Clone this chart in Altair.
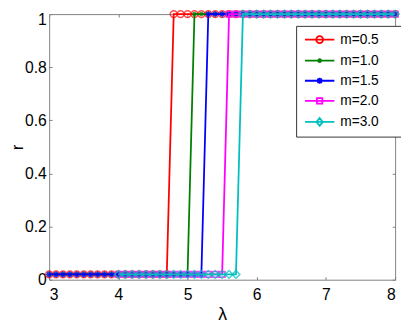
import altair as alt
import pandas as pd

# lambda grids (markers every 0.1)
lam_a = [3.0, 3.1, 3.2, 3.3, 3.4, 3.5, 3.6, 3.7, 3.8, 3.9,
         4.0, 4.1, 4.2, 4.3, 4.4, 4.5, 4.6, 4.7, 4.8, 4.9,
         5.0, 5.1, 5.2, 5.3, 5.4, 5.5, 5.6, 5.7, 5.8, 5.9,
         6.0, 6.1, 6.2, 6.3, 6.4, 6.5, 6.6, 6.7, 6.8, 6.9,
         7.0, 7.1, 7.2, 7.3, 7.4, 7.5, 7.6, 7.7, 7.8, 7.9, 8.0]
lam_b = [4.0, 4.1, 4.2, 4.3, 4.4, 4.5, 4.6, 4.7, 4.8, 4.9,
         5.0, 5.1, 5.2, 5.3, 5.4, 5.5, 5.6, 5.7, 5.8, 5.9,
         6.0, 6.1, 6.2, 6.3, 6.4, 6.5, 6.6, 6.7, 6.8, 6.9,
         7.0, 7.1, 7.2, 7.3, 7.4, 7.5, 7.6, 7.7, 7.8, 7.9, 8.0]

# r values (on lam_a for m=0.5,1.0,1.5 ; on lam_b for m=2.0,3.0)
r_m05 = [0.02, 0.02, 0.02, 0.02, 0.02, 0.02, 0.02, 0.02, 0.02, 0.02,
         0.02, 0.02, 0.02, 0.02, 0.02, 0.02, 0.02, 0.02, 1.0, 1.0,
         1.0, 1.0, 1.0, 1.0, 1.0, 1.0, 1.0, 1.0, 1.0, 1.0,
         1.0, 1.0, 1.0, 1.0, 1.0, 1.0, 1.0, 1.0, 1.0, 1.0,
         1.0, 1.0, 1.0, 1.0, 1.0, 1.0, 1.0, 1.0, 1.0, 1.0, 1.0]
r_m10 = [0.02, 0.02, 0.02, 0.02, 0.02, 0.02, 0.02, 0.02, 0.02, 0.02,
         0.02, 0.02, 0.02, 0.02, 0.02, 0.02, 0.02, 0.02, 0.02, 0.02,
         0.02, 1.0, 1.0, 1.0, 1.0, 1.0, 1.0, 1.0, 1.0, 1.0,
         1.0, 1.0, 1.0, 1.0, 1.0, 1.0, 1.0, 1.0, 1.0, 1.0,
         1.0, 1.0, 1.0, 1.0, 1.0, 1.0, 1.0, 1.0, 1.0, 1.0, 1.0]
r_m15 = [0.02, 0.02, 0.02, 0.02, 0.02, 0.02, 0.02, 0.02, 0.02, 0.02,
         0.02, 0.02, 0.02, 0.02, 0.02, 0.02, 0.02, 0.02, 0.02, 0.02,
         0.02, 0.02, 0.02, 1.0, 1.0, 1.0, 1.0, 1.0, 1.0, 1.0,
         1.0, 1.0, 1.0, 1.0, 1.0, 1.0, 1.0, 1.0, 1.0, 1.0,
         1.0, 1.0, 1.0, 1.0, 1.0, 1.0, 1.0, 1.0, 1.0, 1.0, 1.0]
r_m20 = [0.02, 0.02, 0.02, 0.02, 0.02, 0.02, 0.02, 0.02, 0.02, 0.02,
         0.02, 0.02, 0.02, 0.02, 0.02, 0.02, 1.0, 1.0, 1.0, 1.0,
         1.0, 1.0, 1.0, 1.0, 1.0, 1.0, 1.0, 1.0, 1.0, 1.0,
         1.0, 1.0, 1.0, 1.0, 1.0, 1.0, 1.0, 1.0, 1.0, 1.0, 1.0]
r_m30 = [0.02, 0.02, 0.02, 0.02, 0.02, 0.02, 0.02, 0.02, 0.02, 0.02,
         0.02, 0.02, 0.02, 0.02, 0.02, 0.02, 0.02, 0.02, 1.0, 1.0,
         1.0, 1.0, 1.0, 1.0, 1.0, 1.0, 1.0, 1.0, 1.0, 1.0,
         1.0, 1.0, 1.0, 1.0, 1.0, 1.0, 1.0, 1.0, 1.0, 1.0, 1.0]

labels = ["m=0.5", "m=1.0", "m=1.5", "m=2.0", "m=3.0"]
colors = ["#ff0000", "#008000", "#0000ff", "#ff00ff", "#00bfbf"]
x_ticks = [3, 4, 5, 6, 7, 8]
y_ticks = [0, 0.2, 0.4, 0.6, 0.8, 1]

series = [(lam_a, r_m05), (lam_a, r_m10), (lam_a, r_m15), (lam_b, r_m20), (lam_b, r_m30)]
frames = [pd.DataFrame({"lam": xs, "r": ys, "series": lab})
          for lab, (xs, ys) in zip(labels, series)]
df = pd.concat(frames, ignore_index=True)

FONT = "Liberation Sans"
GREY = "#808080"
ASTER = "M-1,0H1M0,-1V1M-0.7,-0.7L0.7,0.7M-0.7,0.7L0.7,-0.7"

marker_styles = [
    dict(shape="circle", filled=False, size=49, strokeWidth=1.5),
    dict(shape="circle", filled=True, size=24),
    dict(shape=ASTER, filled=False, size=40, strokeWidth=1.4),
    dict(shape="square", filled=False, size=36, strokeWidth=1.6),
    dict(shape="diamond", filled=False, size=64, strokeWidth=1.5),
]

# legend glyphs: line segment with the series marker in its middle
# (unit = 5 px; line spans 30 px; a tiny trailing stub widens the legend box)
TAIL = "M18.6,0H18.601"
legend_paths = [
    "M-1,0H5M2.7,0A0.7,0.7 0 1,1 1.3,0A0.7,0.7 0 1,1 2.7,0" + TAIL,
    "M-1,0H5M2.3,0A0.3,0.3 0 1,1 1.7,0A0.3,0.3 0 1,1 2.3,0" + TAIL,
    "M-1,0H5M2,-0.6V0.6M1.55,-0.45L2.45,0.45M1.55,0.45L2.45,-0.45" + TAIL,
    "M-1,0H5M1.45,-0.55H2.55V0.55H1.45Z" + TAIL,
    "M-1,0H5M2,-0.8L2.65,0L2,0.8L1.35,0Z" + TAIL,
]

xscale = alt.Scale(domain=[3, 8], nice=False, zero=False)
yscale = alt.Scale(domain=[0, 1], nice=False, zero=False)

ax_bottom = alt.Axis(orient="bottom", values=x_ticks, domain=False, grid=False,
                     offset=-3, tickSize=3, tickColor=GREY, tickWidth=1,
                     labelFont=FONT, labelFontSize=16, labelColor="black",
                     labelPadding=7, labelExpr="datum.value + ''",
                     title="λ", titleFont=FONT, titleFontSize=18,
                     titleFontWeight="normal", titleColor="black", titlePadding=4)
ax_left = alt.Axis(orient="left", values=y_ticks, domain=False, grid=False,
                   offset=-3, tickSize=3, tickColor=GREY, tickWidth=1,
                   labelFont=FONT, labelFontSize=16, labelColor="black",
                   labelPadding=3, labelExpr="datum.value + ''",
                   labelOffset={"condition": {"test": "datum.value == 1", "value": 6}, "value": 0},
                   title="r", titleFont=FONT, titleFontSize=16,
                   titleFontWeight="normal", titleColor="black", titlePadding=-1.5)
ax_top = alt.Axis(orient="top", values=x_ticks, domain=False, grid=False, labels=False,
                  offset=-3, tickSize=3, tickColor=GREY, title=None)
ax_right = alt.Axis(orient="right", values=y_ticks, domain=False, grid=False, labels=False,
                    offset=-3, tickSize=3, tickColor=GREY, title=None)

layers = []
for i, (lab, col, ms) in enumerate(zip(labels, colors, marker_styles)):
    base = alt.Chart(df).transform_filter(alt.datum.series == lab)
    xa = ax_bottom if i == 0 else None
    ya = ax_left if i == 0 else None
    line = base.mark_line(color=col, strokeWidth=1.8).encode(
        x=alt.X("lam:Q", scale=xscale, axis=xa),
        y=alt.Y("r:Q", scale=yscale, axis=ya),
    )
    pts = base.mark_point(color=col, **ms).encode(
        x=alt.X("lam:Q", scale=xscale, axis=None),
        y=alt.Y("r:Q", scale=yscale, axis=None),
    )
    layers += [line, pts]

legend_cfg = dict(title=None, orient="none", legendX=252, legendY=12,
                  padding=7, strokeColor="#333333", fillColor="white",
                  symbolSize=100, symbolStrokeWidth=1.8, symbolOpacity=1,
                  labelFont=FONT, labelFontSize=14, labelColor="black",
                  labelOffset=24, rowPadding=6.5)

legend_layer = alt.Chart(df).transform_filter("datum.r > 5").mark_point(filled=False).encode(
    x=alt.X("lam:Q", scale=xscale, axis=ax_top),
    y=alt.Y("r:Q", scale=yscale, axis=ax_right),
    color=alt.Color("series:N", scale=alt.Scale(domain=labels, range=colors),
                    legend=alt.Legend(**legend_cfg)),
    shape=alt.Shape("series:N", scale=alt.Scale(domain=labels, range=legend_paths),
                    legend=alt.Legend(**legend_cfg)),
)
layers.append(legend_layer)

chart = alt.layer(*layers).resolve_axis(x="independent", y="independent").properties(
    width=353, height=271,
    autosize=alt.AutoSizeParams(type="none"),
    padding={"left": 42, "top": 3, "right": 6, "bottom": 44},
    background="white",
).configure_view(stroke=GREY, strokeWidth=1)

chart.save("out.html", embed_options={"renderer": "svg", "actions": False})
